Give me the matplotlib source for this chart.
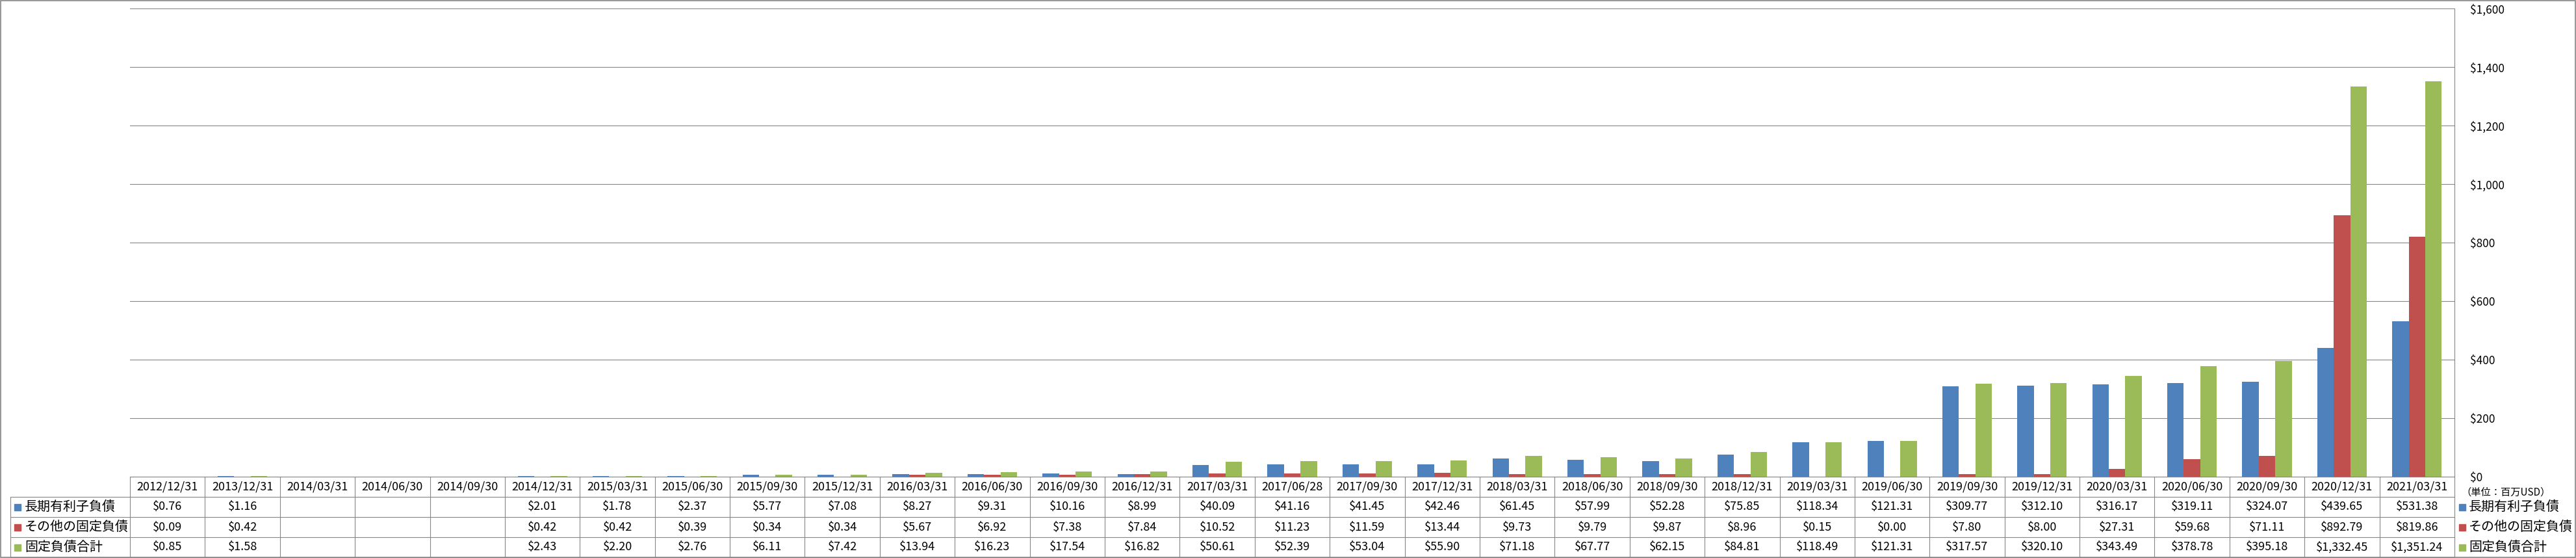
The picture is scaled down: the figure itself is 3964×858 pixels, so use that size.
import numpy as np
import matplotlib
matplotlib.use('Agg')
import matplotlib.pyplot as plt
from matplotlib.transforms import blended_transform_factory
from matplotlib.patches import Rectangle
from matplotlib.ticker import FuncFormatter

plt.rcParams['font.family'] = ['Noto Sans CJK JP', 'DejaVu Sans']

# data (million USD)
dates = ['2012/12/31', '2013/12/31', '2014/03/31', '2014/06/30', '2014/09/30', '2014/12/31',
         '2015/03/31', '2015/06/30', '2015/09/30', '2015/12/31', '2016/03/31', '2016/06/30',
         '2016/09/30', '2016/12/31', '2017/03/31', '2017/06/28', '2017/09/30', '2017/12/31',
         '2018/03/31', '2018/06/30', '2018/09/30', '2018/12/31', '2019/03/31', '2019/06/30',
         '2019/09/30', '2019/12/31', '2020/03/31', '2020/06/30', '2020/09/30', '2020/12/31',
         '2021/03/31']
series_names = ['長期有利子負債', 'その他の固定負債', '固定負債合計']
long_debt = [0.76, 1.16, None, None, None, 2.01, 1.78, 2.37, 5.77, 7.08, 8.27, 9.31,
             10.16, 8.99, 40.09, 41.16, 41.45, 42.46, 61.45, 57.99, 52.28, 75.85, 118.34, 121.31,
             309.77, 312.10, 316.17, 319.11, 324.07, 439.65, 531.38]
other_fixed = [0.09, 0.42, None, None, None, 0.42, 0.42, 0.39, 0.34, 0.34, 5.67, 6.92,
               7.38, 7.84, 10.52, 11.23, 11.59, 13.44, 9.73, 9.79, 9.87, 8.96, 0.15, 0.00,
               7.80, 8.00, 27.31, 59.68, 71.11, 892.79, 819.86]
total_fixed = [0.85, 1.58, None, None, None, 2.43, 2.20, 2.76, 6.11, 7.42, 13.94, 16.23,
               17.54, 16.82, 50.61, 52.39, 53.04, 55.90, 71.18, 67.77, 62.15, 84.81, 118.49, 121.31,
               317.57, 320.10, 343.49, 378.78, 395.18, 1332.45, 1351.24]
unit_label = '（単位：百万USD）'

colors = ['#4F81BD', '#C0504D', '#9BBB59']
grid_c = '#868686'
series = [long_debt, other_fixed, total_fixed]

W, H = 3964, 858
fig = plt.figure(figsize=(W / 100, H / 100), dpi=100)
ax = fig.add_axes([200 / W, (H - 733) / H, 3577 / W, 720 / H])
tab = fig.add_axes([200 / W, (H - 857) / H, 3577 / W, 124 / H])

n = len(dates)
x = np.arange(n)
bw = 0.22

# bars
for k, (vals, col) in enumerate(zip(series, colors)):
    xs = [x[i] + (k - 1) * bw for i in range(n) if vals[i] is not None]
    hs = [v for v in vals if v is not None]
    ax.bar(xs, hs, width=bw, color=col, zorder=2)

ax.set_xlim(-0.5, n - 0.5)
ax.set_ylim(0, 1600)
ax.set_yticks(range(0, 1601, 200))
ax.yaxis.set_major_formatter(FuncFormatter(lambda v, p: '${:,.0f}'.format(v)))
ax.yaxis.tick_right()
ax.tick_params(axis='y', length=0, pad=17, labelsize=12.5)
ax.set_xticks([])
ax.yaxis.grid(True, color=grid_c, lw=0.8)
ax.set_axisbelow(True)
for s in ['top', 'left', 'bottom']:
    ax.spines[s].set_visible(False)
ax.spines['right'].set_color(grid_c)
ax.spines['right'].set_linewidth(0.8)

# data table
tab.set_xlim(-0.5, n - 0.5)
tab.set_ylim(0, 4)
tab.axis('off')
lab = blended_transform_factory(tab.transAxes, tab.transData)
LABEL_LEFT = -0.0514
lk = dict(color=grid_c, lw=0.8, clip_on=False)
for y in [0, 1, 2, 3]:
    tab.plot([LABEL_LEFT, 1], [y, y], transform=lab, **lk)
tab.plot([0, 1], [4, 4], transform=lab, **lk)
tab.plot([LABEL_LEFT, LABEL_LEFT], [0, 3], transform=lab, **lk)
for i in range(n + 1):
    tab.plot([i - 0.5, i - 0.5], [0, 4], **lk)

for i, d in enumerate(dates):
    tab.text(i, 3.5, d, ha='center', va='center', fontsize=13)
for k, vals in enumerate(series):
    yrow = 2.5 - k
    for i, v in enumerate(vals):
        if v is not None:
            tab.text(i, yrow, '${:,.2f}'.format(v), ha='center', va='center', fontsize=13)
    # row label
    tab.plot([-0.0484], [yrow], marker='s', ms=7.9, color=colors[k], transform=lab, clip_on=False)
    tab.text(-0.0453, yrow, series_names[k], ha='left', va='center', fontsize=14.4, transform=lab)
    # legend on the right
    tab.plot([1.0034], [yrow], marker='s', ms=7.9, color=colors[k], transform=lab, clip_on=False)
    tab.text(1.0062, yrow, series_names[k], ha='left', va='center', fontsize=14.4, transform=lab)

tab.text(1.0028, 3.23, unit_label, ha='left', va='center', fontsize=11, transform=lab)

# chart border
fig.patches.append(Rectangle((1 / W, 1 / H), 3962 / W, 856 / H, transform=fig.transFigure,
                             fill=False, edgecolor=grid_c, lw=1.2))

fig.savefig('out.png', dpi=100)
